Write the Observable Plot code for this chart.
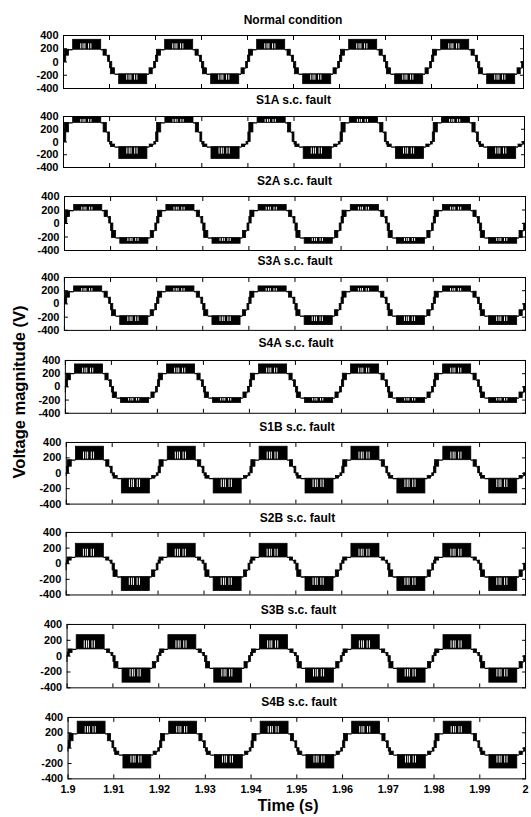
<!DOCTYPE html>
<html><head><meta charset="utf-8">
<script src="https://cdn.jsdelivr.net/npm/d3@7"></script>
<script src="https://cdn.jsdelivr.net/npm/@observablehq/plot@0.6"></script>
<style>
body{margin:0;background:#fff;}
#root{position:relative;width:531px;height:817px;overflow:hidden;background:#fff;font-family:"Liberation Sans",Arial,sans-serif;color:#000;}
.ttl{position:absolute;font-weight:bold;font-size:12px;line-height:14px;transform:translate(-50%,-50%);white-space:nowrap;}
.pn{position:absolute;}
.ylab{position:absolute;font-weight:bold;font-size:16.5px;white-space:nowrap;transform:translate(-50%,-50%) rotate(-90deg);}
.xlab{position:absolute;font-weight:bold;font-size:16px;white-space:nowrap;transform:translate(-50%,-50%);}
</style></head><body><div id="root"></div>
<script>
// ---------------- data ----------------
const titles = ["Normal condition","S1A s.c. fault","S2A s.c. fault","S3A s.c. fault","S4A s.c. fault",
                "S1B s.c. fault","S2B s.c. fault","S3B s.c. fault","S4B s.c. fault"];
// positive staircase levels (V): first step, plateau base, top
const posLevels = [
  [95,185,335],[150,300,390],[95,190,275],[95,185,265],[100,200,340],
  [85,170,345],[40,80,255],[40,85,265],[90,185,345]];
// negative staircase levels (V)
const negLevels = [
  [-95,-185,-335],[-40,-80,-265],[-110,-215,-300],[-95,-185,-320],[-85,-170,-245],
  [-35,-70,-262],[-85,-170,-350],[-75,-155,-335],[-45,-90,-265]];
// rising zero crossings of the fundamental (s)
const cycleStarts = [1.8801,1.9001,1.9201,1.9401,1.9601,1.9801,2.0001];
// one half-cycle of the switching pattern, in ms from the zero crossing
// kind: band = PWM between two levels, line = dwell on a level
const halfPattern = [
  {t0:0.0,t1:0.5,kind:"band",lo:0,hi:1},
  {t0:0.2,t1:1.1,kind:"band",lo:1,hi:2},
  {t0:1.1,t1:2.0,kind:"line",lv:2},
  {t0:2.0,t1:8.1,kind:"band",lo:2,hi:3},
  {t0:8.1,t1:8.6,kind:"line",lv:2},
  {t0:8.6,t1:9.3,kind:"band",lo:1,hi:2},
  {t0:9.3,t1:9.6,kind:"line",lv:1},
  {t0:9.6,t1:10.0,kind:"band",lo:0,hi:1}];
// gaps (long dwell on the outer level) inside the top block, ms from the peak
const gapOffsets = [-1.4,-0.9,-0.5,0.3,0.8];
const yTicks = [-400,-200,0,200,400];
const xTicks = [1.9,1.91,1.92,1.93,1.94,1.95,1.96,1.97,1.98,1.99,2.0];
const xTickLabels = ["1.9","1.91","1.92","1.93","1.94","1.95","1.96","1.97","1.98","1.99","2"];

// ---------------- layout ----------------
const frameTop    = [35,116,196,277,360,442,532,624,717];
const frameBottom = [88,167,250,330,413,504,595,688,779];
const frameLeft   = [63,63,64,64,65,66,66,67,68];
const frameRight  = [523,524,525,526,527,528,529,530,530];
const titleY      = [20,100,181,261,343,427,518,610,702];

const root = document.getElementById("root");

function buildPanel(i){
  const P=[0,...posLevels[i]], N=[0,...negLevels[i]];
  const bands=[], lines=[], gaps=[];
  for (const c of cycleStarts) {
    for (const [L, off] of [[P,0],[N,10]]) {
      for (const s of halfPattern) {
        const t0 = c + (off + s.t0)/1000, t1 = c + (off + s.t1)/1000;
        if (s.kind === "line") lines.push({t0, t1, v: L[s.lv]});
        else bands.push({t0, t1, lo: L[s.lo], hi: L[s.hi]});
      }
      for (const g of gapOffsets) {
        gaps.push({t: c + (off + 5.05 + g)/1000, y1: L[2] + 0.08*(L[3]-L[2]), y2: L[2] + 0.6*(L[3]-L[2])});
      }
    }
  }
  return {bands, lines, gaps};
}

const font = `"Liberation Sans", Arial, sans-serif`;
titles.forEach((title, i) => {
  const last = i === titles.length - 1;
  const ML = 45, MR = 6, MT = 4, MB = last ? 30 : 4;
  const L = frameLeft[i], R = frameRight[i], T = frameTop[i], B = frameBottom[i];
  const {bands, lines, gaps} = buildPanel(i);
  const fmt = d => xTickLabels[xTicks.findIndex(v => Math.abs(v - d) < 1e-9)];
  const chart = Plot.plot({
    width: R - L + ML + MR,
    height: B - T + MT + MB,
    marginLeft: ML, marginRight: MR, marginTop: MT, marginBottom: MB,
    x: {domain: [1.9, 2.0], label: null},
    y: {domain: [-400, 400], label: null},
    style: {fontFamily: font, fontSize: "11px", fontWeight: "bold", color: "black", background: "transparent", overflow: "visible"},
    marks: [
      Plot.rect(bands, {x1: "t0", x2: "t1", y1: "lo", y2: "hi", fill: "black", stroke: "black", strokeWidth: 0.8, clip: true}),
      Plot.ruleY(lines, {y: "v", x1: "t0", x2: "t1", stroke: "black", strokeWidth: 1.3, clip: true}),
      Plot.ruleX(gaps, {x: "t", y1: "y1", y2: "y2", stroke: "white", strokeWidth: 1, clip: true}),
      Plot.frame({stroke: "black", strokeWidth: 1}),
      Plot.axisY({anchor: "left", ticks: yTicks, tickSize: -4, tickPadding: 9, tickFormat: d => String(d), label: null}),
      Plot.axisY({anchor: "right", ticks: yTicks, tickSize: -4, tickFormat: () => "", label: null}),
      Plot.axisX({anchor: "top", ticks: xTicks, tickSize: -4, tickFormat: () => "", label: null}),
      Plot.axisX({anchor: "bottom", ticks: xTicks, tickSize: -4, tickPadding: 10, tickFormat: last ? fmt : () => "", label: null})
    ]
  });
  const wrap = document.createElement("div");
  wrap.className = "pn";
  wrap.style.left = (L - ML) + "px";
  wrap.style.top = (T - MT) + "px";
  wrap.appendChild(chart);
  root.appendChild(wrap);

  const t = document.createElement("div");
  t.className = "ttl";
  t.textContent = title;
  t.style.left = ((L + R) / 2) + "px";
  t.style.top = titleY[i] + "px";
  root.appendChild(t);
});

const yl = document.createElement("div");
yl.className = "ylab"; yl.textContent = "Voltage magnitude (V)";
yl.style.left = "19px"; yl.style.top = "392px";
root.appendChild(yl);
const xl = document.createElement("div");
xl.className = "xlab"; xl.textContent = "Time (s)";
xl.style.left = "288px"; xl.style.top = "806px";
root.appendChild(xl);
</script></body></html>
